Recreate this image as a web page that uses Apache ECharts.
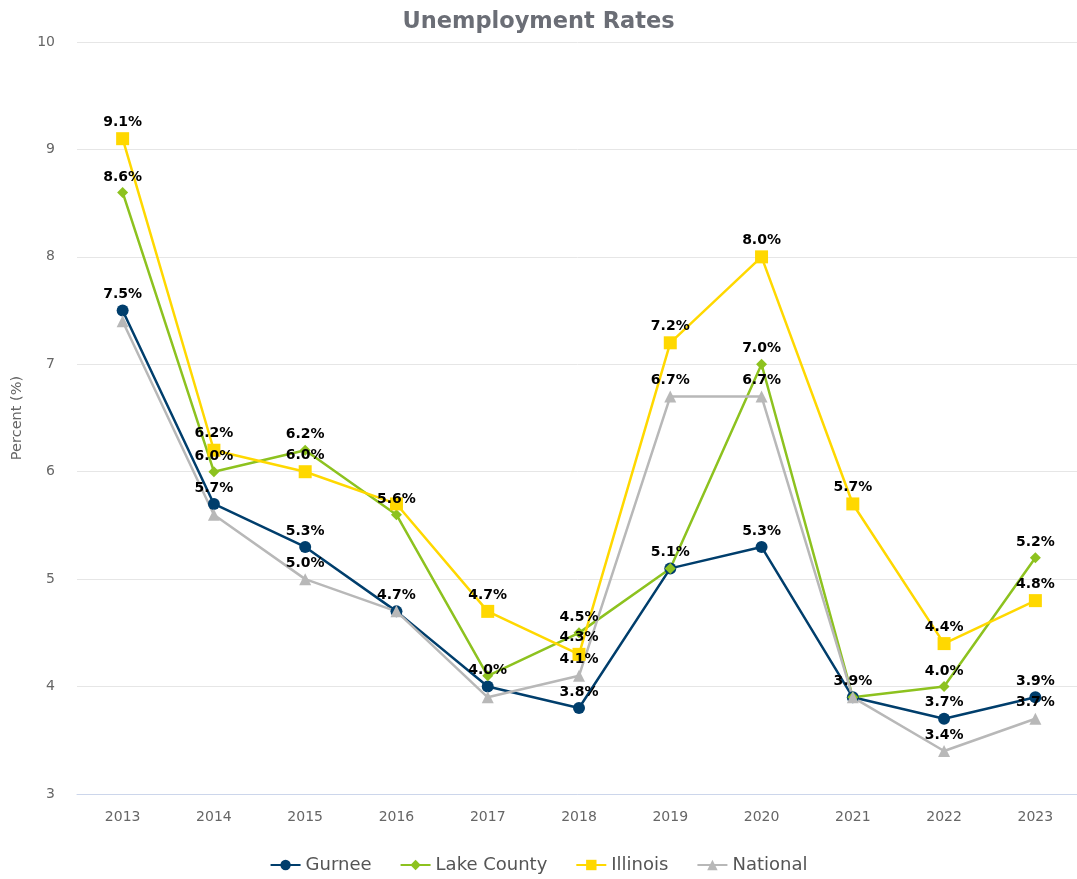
<!DOCTYPE html>
<html>
<head>
<meta charset="utf-8">
<script src="https://cdn.jsdelivr.net/npm/echarts@6/dist/echarts.min.js"></script>
<style>
  html, body { margin: 0; padding: 0; background: #fff; }
  #chart { width: 1077px; height: 879px; }
</style>
</head>
<body>
<div id="chart"></div>
<script>
// Annual unemployment rates (percent)
const years = ['2013', '2014', '2015', '2016', '2017', '2018', '2019', '2020', '2021', '2022', '2023'];
const gurnee     = [7.5, 5.7, 5.3, 4.7, 4.0, 3.8, 5.1, 5.3, 3.9, 3.7, 3.9];
const lakeCounty = [8.6, 6.0, 6.2, 5.6, 4.1, 4.5, 5.1, 7.0, 3.9, 4.0, 5.2];
const illinois   = [9.1, 6.2, 6.0, 5.7, 4.7, 4.3, 7.2, 8.0, 5.7, 4.4, 4.8];
const national   = [7.4, 5.6, 5.0, 4.7, 3.9, 4.1, 6.7, 6.7, 3.9, 3.4, 3.7];
// value labels left off where they would collide with a neighbour's
const illinoisHiddenLabels = [3];

const FONT = '"DejaVu Sans", "Open Sans", sans-serif';

function lineSeries(name, values, color, symbol, size, hidden) {
  hidden = hidden || [];
  return {
    name: name,
    type: 'line',
    data: values.map((v, i) => hidden.includes(i) ? { value: v, label: { show: false } } : v),
    symbol: symbol,
    symbolSize: size,
    lineStyle: { color: color, width: 2.5 },
    itemStyle: { color: color },
    label: {
      show: true,
      position: 'top',
      distance: 3,
      formatter: p => p.value.toFixed(1) + '%',
      color: '#000',
      fontFamily: FONT,
      fontWeight: 'bold',
      fontSize: 14
    },
    labelLayout: { hideOverlap: true }
  };
}

const chart = echarts.init(document.getElementById('chart'));
chart.setOption({
  animation: false,
  title: {
    text: 'Unemployment Rates',
    left: 'center',
    top: 6,
    textStyle: { fontFamily: FONT, fontWeight: 'bold', fontSize: 22.5, color: '#6b6e76' }
  },
  grid: { left: 77, right: -4, top: 42, bottom: 85, outerBoundsMode: 'none' },
  legend: {
    bottom: 0,
    left: 'center',
    itemWidth: 30,
    itemHeight: 13,
    itemGap: 28,
    textStyle: { fontFamily: FONT, fontSize: 18, color: '#555' },
    data: ['Gurnee', 'Lake County', 'Illinois', 'National']
  },
  xAxis: {
    type: 'category',
    data: years,
    boundaryGap: true,
    axisLine: { lineStyle: { color: '#ccd6eb', width: 1 } },
    axisTick: { show: false },
    axisLabel: { fontFamily: FONT, fontSize: 14, color: '#666', margin: 16 }
  },
  yAxis: {
    type: 'value',
    min: 3,
    max: 10,
    interval: 1,
    name: 'Percent (%)',
    nameLocation: 'middle',
    nameGap: 52,
    nameTextStyle: { fontFamily: FONT, fontSize: 14.5, color: '#666' },
    axisLine: { show: false },
    axisTick: { show: false },
    axisLabel: { fontFamily: FONT, fontSize: 14, color: '#666', margin: 22 },
    splitLine: { lineStyle: { color: '#e6e6e6', width: 1 } }
  },
  series: [
    lineSeries('Gurnee', gurnee, '#003e6c', 'circle', 12),
    lineSeries('Lake County', lakeCounty, '#8dc21f', 'diamond', 11),
    lineSeries('Illinois', illinois, '#ffd800', 'rect', 13, illinoisHiddenLabels),
    lineSeries('National', national, '#b8b8b8', 'triangle', 12)
  ]
});
</script>
</body>
</html>
